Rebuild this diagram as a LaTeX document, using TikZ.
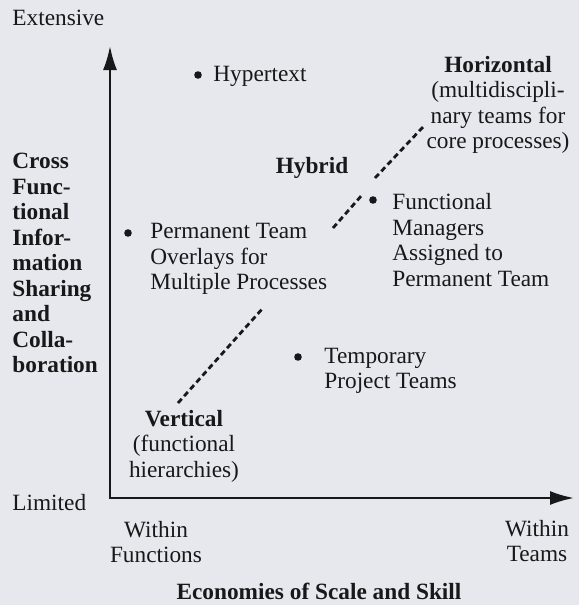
\documentclass[tikz,border=0pt]{standalone}
\usepackage{fontspec}
\setmainfont{Liberation Serif}
\usetikzlibrary{arrows.meta,calc,positioning}

\definecolor{paper}{RGB}{231,232,237}
\definecolor{ink}{RGB}{24,24,26}

\tikzset{
	every node/.style={inner sep=0pt, text=ink, font=\fontsize{11.65}{12.75}\selectfont},
	leftlbl/.style={align=left, anchor=west},
	midlbl/.style={align=center},
	axis/.style={draw=ink, line width=1.1pt, ->},
	trend/.style={draw=ink, line width=1.4pt, dash pattern=on 2.8pt off 1.8pt, line cap=butt},
	bullet/.style={fill=ink}
}

\begin{document}
\begin{tikzpicture}[>={Latex[length=12pt,width=7pt]}, line cap=round, line join=round, x=0.5pt, y=-0.5pt]
	
	% paper
	\fill[paper] (0,0) rectangle (579,605);
	\useasboundingbox (0,0) rectangle (579,605);
	
	% Axes
	\coordinate (O) at (110,498);
	\coordinate (ytip) at (110,46);
	\coordinate (xtip) at (574,498);
	\draw[axis] (O) -- (ytip);
	\draw[axis] (O) -- (xtip);
	
	\node[leftlbl] (extensive) at (12,18) {Extensive};
	\node[leftlbl] (limited) at (12,503) {Limited};
	\node[leftlbl] (yaxis) at (12,263) {\bfseries Cross\\\bfseries Func-\\\bfseries tional\\\bfseries Infor-\\\bfseries mation\\\bfseries Sharing\\\bfseries and\\\bfseries Colla-\\\bfseries boration};
	
	\node[midlbl] (withinfn) at (156,542) {Within\\Functions};
	\node[midlbl] (withintm) at (537,541) {Within\\Teams};
	\node[midlbl] (xaxis) at (319,591) {\bfseries Economies of Scale and Skill};
	
	% Forms of organization
	\node[midlbl] (vertical) at (184,446) {\textbf{Vertical}\\(functional\\hierarchies)};
	\node[midlbl] (hybrid) at (312,168) {\bfseries Hybrid};
	\node[midlbl] (horizontal) at (498,105) {\textbf{Horizontal}\\(multidiscipli-\\nary teams for\\core processes)};
	
	% Dashed trend, broken by the labels
	\coordinate (v1) at (178,403);
	\coordinate (v2) at (263,308);
	\coordinate (h1) at (333,228);
	\coordinate (h2) at (362,195);
	\coordinate (z1) at (375,178);
	\coordinate (z2) at (423,127);
	\draw[trend] (v1) -- (v2);
	\draw[trend] (h1) -- (h2);
	\draw[trend] (z1) -- (z2);
	
	% Bulleted examples
	\fill[bullet] (198,75) circle (1.9pt);
	\node[leftlbl] (hypertext) at (213,76) {Hypertext};
	
	\fill[bullet] (128,233) circle (1.9pt);
	\node[leftlbl] (permanent) at (150,259) {Permanent Team\\Overlays for\\Multiple Processes};
	
	\fill[bullet] (373,200) circle (1.9pt);
	\node[leftlbl] (funcmgr) at (392,240) {Functional\\Managers\\Assigned to\\Permanent Team};
	
	\fill[bullet] (298,357) circle (1.9pt);
	\node[leftlbl] (temporary) at (324,371) {Temporary\\Project Teams};
	
\end{tikzpicture}
\end{document}
